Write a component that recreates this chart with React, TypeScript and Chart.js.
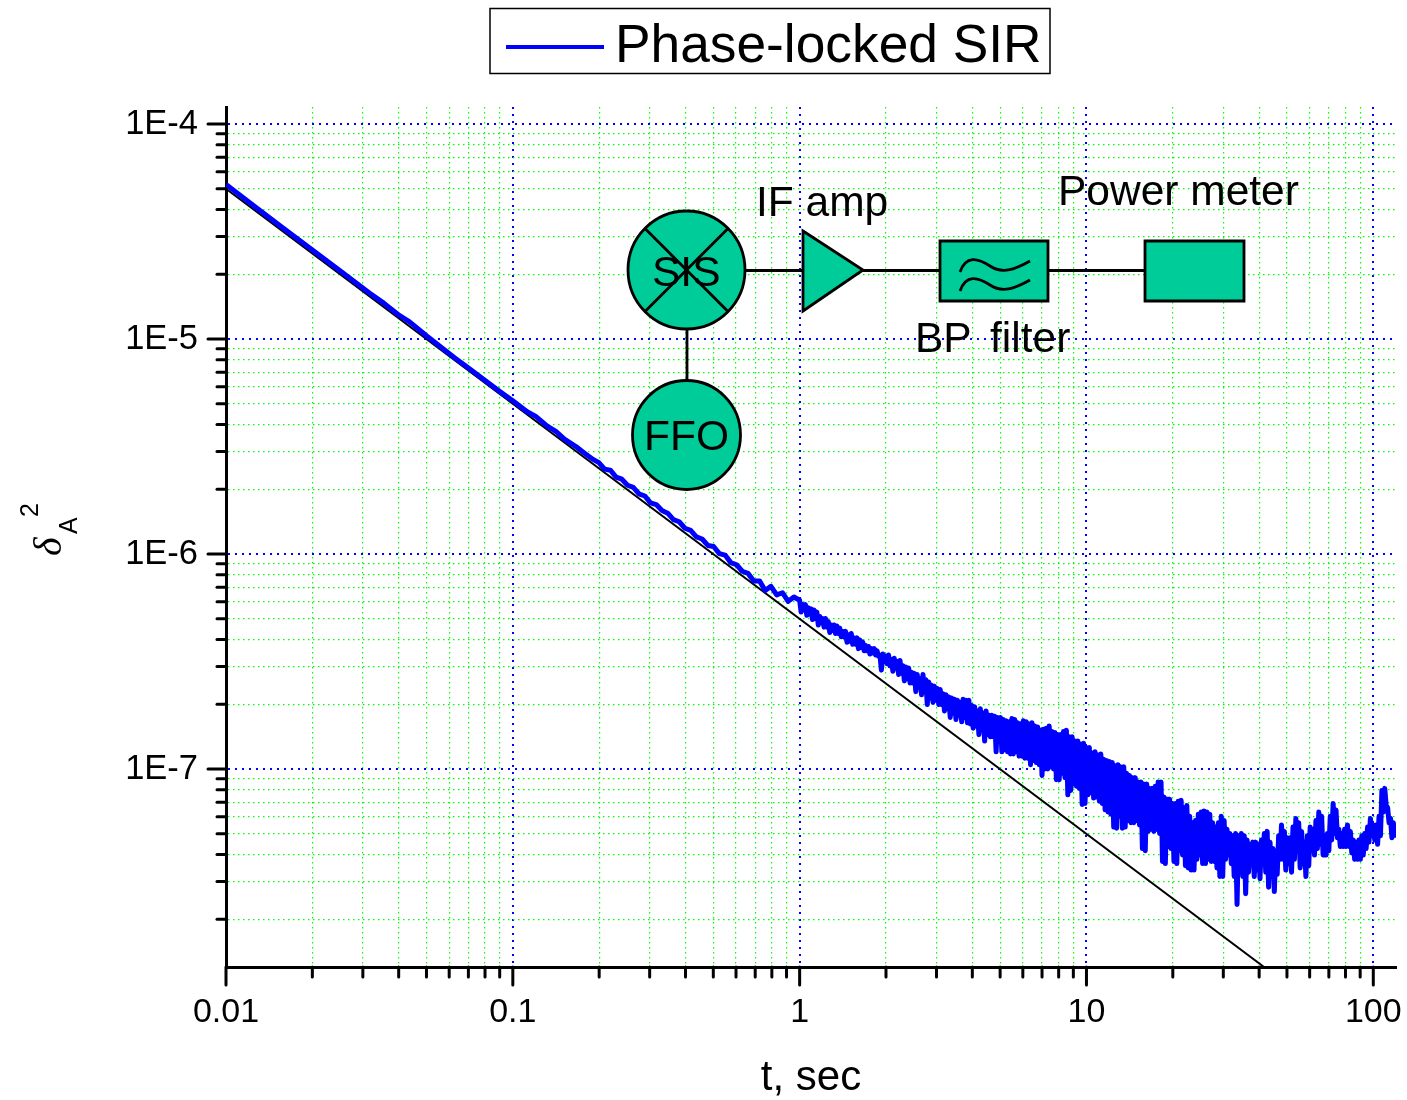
import React, { useEffect, useRef } from "react";
import { Chart, registerables } from "chart.js";

Chart.register(...registerables);

const FONT = '"Liberation Sans", Arial, sans-serif';

// Values, as decades (log10) of the axes.
const logTimeSmooth = [-2, -1.9, -1.8, -1.7, -1.6, -1.5, -1.45, -1.4, -1.36, -1.3, -1.25, -1.2, -1.15, -1.1, -1.05, -1, -0.95, -0.92, -0.88, -0.85, -0.82, -0.78, -0.75, -0.72];
const logDeltaSmooth = [-4.281, -4.384, -4.485, -4.585, -4.685, -4.786, -4.833, -4.886, -4.92, -4.986, -5.038, -5.09, -5.14, -5.19, -5.24, -5.287, -5.338, -5.36, -5.405, -5.43, -5.466, -5.5, -5.531, -5.56];

const logTimeRising = [-0.7, -0.68, -0.66, -0.64, -0.62, -0.6, -0.58, -0.56, -0.54, -0.52, -0.5, -0.48, -0.46, -0.44, -0.42, -0.4, -0.38, -0.36, -0.34, -0.32, -0.3, -0.28, -0.26, -0.24, -0.22, -0.2, -0.18, -0.16, -0.14, -0.12, -0.1, -0.08, -0.06, -0.04, -0.02];
const logDeltaRising = [-5.575, -5.605, -5.61, -5.642, -5.652, -5.68, -5.69, -5.72, -5.73, -5.762, -5.77, -5.798, -5.81, -5.84, -5.85, -5.88, -5.89, -5.92, -5.93, -5.96, -5.965, -5.998, -6.005, -6.04, -6.05, -6.08, -6.09, -6.125, -6.125, -6.17, -6.15, -6.19, -6.18, -6.22, -6.2];

// The noisy part: for each time, the upper edge reached and the dip that follows it.
const logTimeBand = [0, 0.01, 0.02, 0.03, 0.04, 0.05, 0.06, 0.07, 0.08, 0.09, 0.1, 0.11, 0.12, 0.13, 0.14, 0.15, 0.16, 0.17, 0.18, 0.19, 0.2, 0.21, 0.22, 0.23, 0.24, 0.25, 0.26, 0.27, 0.28, 0.29, 0.3, 0.31, 0.32, 0.33, 0.34, 0.35, 0.36, 0.37, 0.38, 0.39, 0.4, 0.41, 0.42, 0.43, 0.44, 0.45, 0.46, 0.47, 0.48, 0.49, 0.5, 0.51, 0.52, 0.53, 0.54, 0.55, 0.56, 0.57, 0.58, 0.59, 0.6, 0.61, 0.62, 0.63, 0.64, 0.65, 0.66, 0.67, 0.68, 0.69];
const bandPeaks = [-6.215, -6.235, -6.235, -6.25, -6.255, -6.26, -6.27, -6.29, -6.3, -6.3, -6.315, -6.33, -6.33, -6.335, -6.345, -6.36, -6.36, -6.375, -6.37, -6.39, -6.39, -6.4, -6.41, -6.425, -6.43, -6.44, -6.44, -6.45, -6.47, -6.465, -6.475, -6.47, -6.49, -6.485, -6.5, -6.495, -6.52, -6.525, -6.53, -6.55, -6.555, -6.56, -6.58, -6.56, -6.585, -6.595, -6.61, -6.615, -6.625, -6.63, -6.65, -6.655, -6.665, -6.67, -6.675, -6.68, -6.69, -6.675, -6.68, -6.68, -6.705, -6.71, -6.73, -6.72, -6.74, -6.73, -6.75, -6.75, -6.755, -6.76];
const bandDips = [-6.27, -6.26, -6.285, -6.28, -6.305, -6.3, -6.33, -6.32, -6.34, -6.34, -6.365, -6.355, -6.37, -6.37, -6.385, -6.385, -6.41, -6.405, -6.42, -6.42, -6.44, -6.435, -6.45, -6.45, -6.465, -6.46, -6.47, -6.475, -6.54, -6.5, -6.51, -6.52, -6.545, -6.53, -6.56, -6.555, -6.59, -6.58, -6.6, -6.6, -6.64, -6.62, -6.655, -6.64, -6.7, -6.67, -6.69, -6.68, -6.7, -6.7, -6.73, -6.72, -6.76, -6.74, -6.77, -6.75, -6.78, -6.76, -6.785, -6.79, -6.81, -6.8, -6.84, -6.82, -6.87, -6.84, -6.85, -6.85, -6.92, -6.87];

const logTimeNoisy = [0.7, 0.71, 0.72, 0.73, 0.74, 0.75, 0.76, 0.77, 0.78, 0.79, 0.8, 0.81, 0.82, 0.83, 0.84, 0.85, 0.86, 0.87, 0.88, 0.89, 0.9, 0.91, 0.92, 0.93, 0.94, 0.95, 0.96, 0.97, 0.98, 0.99, 1, 1.01, 1.02, 1.03, 1.04, 1.05, 1.06, 1.07, 1.08, 1.09, 1.1, 1.11, 1.12, 1.13, 1.14, 1.15, 1.16, 1.17, 1.18, 1.19, 1.2, 1.21, 1.22, 1.23, 1.24, 1.25, 1.26, 1.27, 1.28, 1.29, 1.3, 1.31, 1.32, 1.33, 1.34, 1.35, 1.36, 1.37, 1.38, 1.39, 1.4, 1.41, 1.42, 1.43, 1.44, 1.45, 1.46, 1.47, 1.48, 1.49];
const noisyPeaks = [-6.76, -6.77, -6.775, -6.78, -6.765, -6.77, -6.785, -6.79, -6.775, -6.78, -6.79, -6.785, -6.8, -6.805, -6.82, -6.815, -6.81, -6.8, -6.825, -6.83, -6.84, -6.84, -6.825, -6.82, -6.85, -6.85, -6.87, -6.87, -6.885, -6.88, -6.9, -6.9, -6.925, -6.92, -6.935, -6.93, -6.955, -6.96, -6.965, -6.97, -6.985, -6.98, -6.99, -6.99, -7.02, -7.03, -7.04, -7.04, -7.06, -7.06, -7.07, -7.07, -7.09, -7.09, -7.08, -7.06, -7.06, -7.13, -7.14, -7.14, -7.16, -7.16, -7.15, -7.145, -7.18, -7.17, -7.22, -7.25, -7.24, -7.21, -7.2, -7.195, -7.2, -7.21, -7.25, -7.27, -7.25, -7.22, -7.24, -7.28];
const noisyDips = [-6.92, -6.91, -6.92, -6.93, -6.93, -6.92, -6.94, -6.94, -6.95, -6.95, -6.98, -6.96, -6.97, -6.98, -7.03, -7, -7, -6.99, -7, -7.05, -7.05, -7.02, -7.04, -7.12, -7.1, -7.07, -7.08, -7.09, -7.165, -7.16, -7.12, -7.11, -7.135, -7.13, -7.15, -7.16, -7.19, -7.2, -7.21, -7.27, -7.275, -7.22, -7.275, -7.27, -7.24, -7.25, -7.25, -7.24, -7.26, -7.37, -7.38, -7.29, -7.28, -7.29, -7.28, -7.3, -7.43, -7.44, -7.36, -7.37, -7.43, -7.44, -7.38, -7.4, -7.45, -7.46, -7.47, -7.47, -7.42, -7.4, -7.44, -7.44, -7.42, -7.43, -7.43, -7.46, -7.5, -7.5, -7.42, -7.4];

const logTimeTail = [1.5, 1.51, 1.52, 1.53, 1.54, 1.55, 1.56, 1.57, 1.58, 1.59, 1.6, 1.61, 1.62, 1.63, 1.64, 1.65, 1.66, 1.67, 1.68, 1.69, 1.7, 1.71, 1.72, 1.73, 1.74, 1.75, 1.76, 1.77, 1.78, 1.79, 1.8, 1.81, 1.82, 1.83, 1.84, 1.85, 1.86, 1.87, 1.88, 1.89, 1.9, 1.91, 1.92, 1.93, 1.94, 1.95, 1.96, 1.97, 1.98, 1.99, 2, 2.01, 2.02, 2.03, 2.04, 2.05, 2.06, 2.07];
const tailPeaks = [-7.3, -7.31, -7.3, -7.31, -7.3, -7.31, -7.33, -7.35, -7.34, -7.34, -7.35, -7.33, -7.3, -7.29, -7.34, -7.37, -7.38, -7.31, -7.26, -7.29, -7.32, -7.32, -7.27, -7.23, -7.25, -7.29, -7.34, -7.31, -7.27, -7.28, -7.24, -7.2, -7.22, -7.31, -7.3, -7.22, -7.16, -7.19, -7.28, -7.3, -7.28, -7.26, -7.29, -7.33, -7.34, -7.33, -7.31, -7.3, -7.27, -7.23, -7.26, -7.26, -7.22, -7.1, -7.09, -7.18, -7.23, -7.25];
const tailDips = [-7.44, -7.5, -7.63, -7.46, -7.5, -7.58, -7.48, -7.43, -7.5, -7.47, -7.51, -7.44, -7.48, -7.55, -7.5, -7.57, -7.49, -7.42, -7.42, -7.47, -7.44, -7.48, -7.42, -7.38, -7.46, -7.44, -7.5, -7.45, -7.38, -7.4, -7.37, -7.35, -7.4, -7.4, -7.38, -7.33, -7.3, -7.32, -7.36, -7.36, -7.36, -7.36, -7.39, -7.42, -7.42, -7.42, -7.4, -7.37, -7.34, -7.31, -7.33, -7.35, -7.31, -7.2, -7.17, -7.25, -7.32, -7.32];

const fitTime = [0.01, 41.6];
const fitDelta = [5e-5, 1.2e-8];

const xMajorTicks = [0.01, 0.1, 1, 10, 100];
const xMajorLabels = ["0.01", "0.1", "1", "10", "100"];
const xMinorTicks = [0.02, 0.03, 0.04, 0.05, 0.06, 0.07, 0.08, 0.09, 0.2, 0.3, 0.4, 0.5, 0.6, 0.7, 0.8, 0.9, 2, 3, 4, 5, 6, 7, 8, 9, 20, 30, 40, 50, 60, 70, 80, 90];
const yMajorTicks = [1e-4, 1e-5, 1e-6, 1e-7];
const yMajorLabels = ["1E-4", "1E-5", "1E-6", "1E-7"];
const yMinorTicks = [9e-5, 8e-5, 7e-5, 6e-5, 5e-5, 4e-5, 3e-5, 2e-5, 9e-6, 8e-6, 7e-6, 6e-6, 5e-6, 4e-6, 3e-6, 2e-6, 9e-7, 8e-7, 7e-7, 6e-7, 5e-7, 4e-7, 3e-7, 2e-7, 9e-8, 8e-8, 7e-8, 6e-8, 5e-8, 4e-8, 3e-8, 2e-8];

const SERIES_LABEL = "Phase-locked SIR";
const BLUE = "#0000ff";
const GREEN = "#00ff00";
const TEAL = "#00cc99";

const point = (t: number, d: number) => ({ x: 10 ** t, y: 10 ** d });
const edges = (times: number[], peaks: number[], dips: number[]) =>
  times.flatMap((t, i) => [point(t, peaks[i]), point(t + 0.005, dips[i])]);

const bluePoints = [
  ...logTimeSmooth.map((t, i) => point(t, logDeltaSmooth[i])),
  ...logTimeRising.map((t, i) => point(t, logDeltaRising[i])),
  ...edges(logTimeBand, bandPeaks, bandDips),
  ...edges(logTimeNoisy, noisyPeaks, noisyDips),
  ...edges(logTimeTail, tailPeaks, tailDips),
];
const fitPoints = fitTime.map((t, i) => ({ x: t, y: fitDelta[i] }));

const tickList = (major: number[], minor: number[]) => [
  ...major.map((value) => ({ value, major: true })),
  ...minor.map((value) => ({ value, major: false })),
];

const labelFor = (value: number, major: number[], labels: string[]) => {
  const i = major.findIndex((m) => Math.abs(m - value) < m * 1e-6);
  return i >= 0 ? labels[i] : "";
};

const text = (c: CanvasRenderingContext2D, s: string, x: number, y: number, size: number) => {
  c.font = `${size}px ${FONT}`;
  c.fillStyle = "#000";
  c.fillText(s, x, y);
};

const decorations = {
  id: "decorations",
  afterDatasetsDraw(chart: any) {
    const c: CanvasRenderingContext2D = chart.ctx;
    const { x, y } = chart.scales;
    c.save();
    c.lineCap = "round";
    c.strokeStyle = "#000";
    c.lineWidth = 3;
    x.ticks.forEach((t: any) => {
      const p = x.getPixelForValue(t.value);
      c.beginPath();
      c.moveTo(p, chart.chartArea.bottom);
      c.lineTo(p, chart.chartArea.bottom + (t.major ? 18 : 10));
      c.stroke();
    });
    y.ticks.forEach((t: any) => {
      const p = y.getPixelForValue(t.value);
      c.beginPath();
      c.moveTo(chart.chartArea.left, p);
      c.lineTo(chart.chartArea.left - (t.major ? 18 : 9), p);
      c.stroke();
    });

    // legend
    c.lineCap = "butt";
    c.lineWidth = 1.5;
    c.strokeRect(490, 8.5, 560, 65);
    c.strokeStyle = BLUE;
    c.lineWidth = 4;
    c.beginPath();
    c.moveTo(506, 47);
    c.lineTo(604, 47);
    c.stroke();
    c.textAlign = "left";
    c.textBaseline = "alphabetic";
    text(c, SERIES_LABEL, 615, 62, 53.3);

    // schematic
    c.strokeStyle = "#000";
    c.lineWidth = 2.8;
    c.fillStyle = TEAL;
    const wire = (a: number, b: number, d: number, e: number) => {
      c.beginPath();
      c.moveTo(a, b);
      c.lineTo(d, e);
      c.stroke();
    };
    wire(746, 270.5, 1145, 270.5);
    wire(687, 329, 687, 380);
    const shape = (draw: () => void) => {
      c.beginPath();
      draw();
      c.closePath();
      c.fillStyle = TEAL;
      c.fill();
      c.stroke();
    };
    shape(() => c.ellipse(686.5, 270, 58.5, 59, 0, 0, Math.PI * 2));
    shape(() => c.ellipse(686.5, 435, 54, 54.5, 0, 0, Math.PI * 2));
    shape(() => {
      c.moveTo(803, 231);
      c.lineTo(863, 270);
      c.lineTo(803, 311);
    });
    shape(() => c.rect(940, 241, 108, 60));
    shape(() => c.rect(1145, 241, 99, 60));
    wire(645, 228.5, 728, 311.5);
    wire(728, 228.5, 645, 311.5);
    [0, 19].forEach((dy) => {
      c.beginPath();
      c.moveTo(960, 272 + dy);
      c.bezierCurveTo(966, 255 + dy, 978, 258 + dy, 990, 266 + dy);
      c.bezierCurveTo(1002, 274 + dy, 1014, 270 + dy, 1030, 261 + dy);
      c.stroke();
    });

    text(c, "SIS", 652, 286, 42.5);
    text(c, "FFO", 644, 450, 42.5);
    text(c, "IF amp", 756, 216, 42.5);
    text(c, "Power meter", 1058, 205, 42.5);
    text(c, "BP", 915, 352, 42.5);
    text(c, "filter", 990, 352, 42.5);

    // y axis title, turned a quarter left
    const rotated = (s: string, px: number, py: number, font: string) => {
      c.save();
      c.translate(px, py);
      c.rotate(-Math.PI / 2);
      c.font = font;
      c.fillStyle = "#000";
      c.fillText(s, 0, 0);
      c.restore();
    };
    rotated("δ", 61, 556, 'italic 40px "Liberation Serif", serif');
    rotated("A", 77, 534, `25px ${FONT}`);
    rotated("2", 38, 517, `25px ${FONT}`);
    c.restore();
  },
};

export default function App() {
  const ref = useRef<HTMLCanvasElement>(null);
  useEffect(() => {
    const chart = new Chart(ref.current!, {
      type: "scatter",
      data: {
        datasets: [
          { label: SERIES_LABEL, data: bluePoints, showLine: true, borderColor: BLUE, backgroundColor: BLUE, borderWidth: 5, pointRadius: 0, tension: 0, order: 0, borderJoinStyle: "round" },
          { label: "Fit", data: fitPoints, showLine: true, borderColor: "#000", backgroundColor: "#000", borderWidth: 2, pointRadius: 0, tension: 0, order: 1 },
        ],
      },
      options: {
        animation: false,
        responsive: false,
        layout: { padding: { top: 107, right: 11, left: 0, bottom: 0 } },
        plugins: { legend: { display: false }, tooltip: { enabled: false }, title: { display: false } },
        scales: {
          x: {
            type: "logarithmic",
            min: 0.01,
            max: 120,
            afterBuildTicks: (s: any) => { s.ticks = tickList(xMajorTicks, xMinorTicks); },
            afterFit: (s: any) => { s.height = 133; },
            border: {
              display: true, color: "#000", width: 3,
              dash: (ctx: any) => (ctx.tick?.major ? [2, 5] : [1.5, 3.5]),
            },
            grid: {
              drawTicks: false,
              tickLength: 0,
              color: (ctx: any) => (ctx.tick?.major ? BLUE : GREEN),
              lineWidth: (ctx: any) => (ctx.tick?.major ? 2 : 1.2),
            },
            ticks: {
              autoSkip: false, maxRotation: 0, minRotation: 0, padding: 25, color: "#000",
              font: { family: FONT, size: 34 },
              callback: (v: any) => labelFor(Number(v), xMajorTicks, xMajorLabels),
            },
            title: { display: true, text: "t, sec", color: "#000", font: { family: FONT, size: 42 }, padding: { top: 20, bottom: -4 } },
          },
          y: {
            type: "logarithmic",
            min: 1.2e-8,
            max: 1.2e-4,
            afterBuildTicks: (s: any) => { s.ticks = tickList(yMajorTicks, yMinorTicks); },
            afterFit: (s: any) => { s.width = 226; },
            border: {
              display: true, color: "#000", width: 3,
              dash: (ctx: any) => (ctx.tick?.major ? [2, 5] : [1.5, 3.5]),
            },
            grid: {
              drawTicks: false,
              tickLength: 0,
              color: (ctx: any) => (ctx.tick?.major ? BLUE : GREEN),
              lineWidth: (ctx: any) => (ctx.tick?.major ? 2 : 1.2),
            },
            ticks: {
              autoSkip: false, padding: 28, color: "#000",
              font: { family: FONT, size: 34.5 },
              callback: (v: any) => labelFor(Number(v), yMajorTicks, yMajorLabels),
            },
          },
        },
      },
      plugins: [decorations],
    } as any);
    return () => chart.destroy();
  }, []);
  return (
    <div style={{ position: "absolute", left: 0, top: 0, width: 1407, height: 1100, background: "#fff" }}>
      <canvas ref={ref} width={1407} height={1100} style={{ display: "block" }} />
    </div>
  );
}
